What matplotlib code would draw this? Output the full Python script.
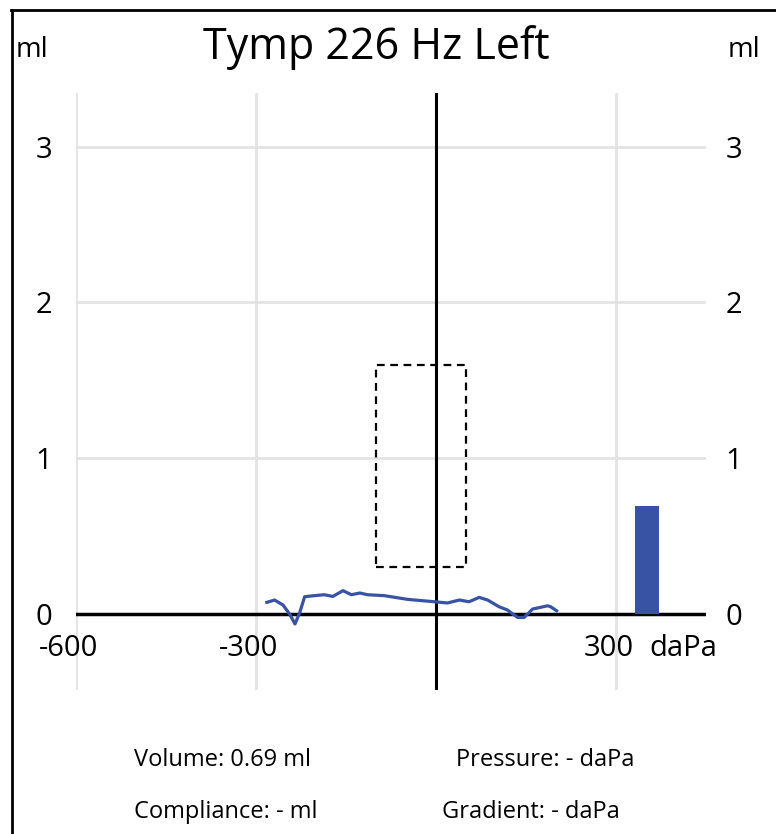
import matplotlib
matplotlib.use("Agg")
import matplotlib.pyplot as plt
from matplotlib.lines import Line2D
from matplotlib.patches import Rectangle
import matplotlib.transforms as mtransforms

# dados do timpanograma
pressao = [-282, -269, -255, -244, -235, -227, -219, -208, -186, -172, -155, -141, -127,
           -114, -86, -47, -3, 19, 39, 55, 72, 86, 105, 119, 136, 147, 161, 186, 191, 201]
complacencia = [0.073, 0.088, 0.056, -0.002, -0.066, 0.008, 0.109, 0.114, 0.122, 0.111,
                0.148, 0.122, 0.133, 0.122, 0.116, 0.092, 0.077, 0.069, 0.088, 0.077,
                0.105, 0.088, 0.045, 0.024, -0.024, -0.024, 0.030, 0.051, 0.045, 0.019]
volume = 0.69
volume_x = 352
caixa = {'x0': -100, 'x1': 50, 'y0': 0.3, 'y1': 1.6}  # região normal
x_ticks = [-600, -300, 300]
x_ticklabels = ['-600', '-300', '300']
y_ticks = [0, 1, 2, 3]
rodape = [('Volume: 0.69 ml', 134, 760), ('Pressure: - daPa', 456, 760),
          ('Compliance: - ml', 134, 812), ('Gradient: - daPa', 442, 812)]

W, H = 776, 834
azul = '#3953a4'
cinza = '#e3e3e3'
fonte = ['Open Sans', 'DejaVu Sans']

fig = plt.figure(figsize=(W / 100, H / 100), dpi=100)
ax = fig.add_axes([76 / W, (H - 690) / H, 630 / W, (690 - 93) / H])
ax.set_xlim(-600, 450)
ax.set_ylim(-0.49, 3.345)
for s in ax.spines.values():
    s.set_visible(False)

# grade
for y in y_ticks[1:]:
    ax.axhline(y, color=cinza, lw=2, zorder=0)
for x in x_ticks:
    ax.axvline(x, color=cinza, lw=2, zorder=0)
ax.axhline(0, color='black', lw=2.5, zorder=2)
ax.axvline(0, color='black', lw=2.2, zorder=2)

# caixa tracejada
ax.add_patch(Rectangle((caixa['x0'], caixa['y0']), caixa['x1'] - caixa['x0'],
                       caixa['y1'] - caixa['y0'], fill=False, ls=(0, (3.5, 2.5)),
                       lw=1.6, ec='black', zorder=3))

# curva e barra de volume
ax.plot(pressao, complacencia, color=azul, lw=2.3, zorder=4)
ax.bar([volume_x], [volume], width=40, color=azul, zorder=3)

# eixo y dos dois lados
ax.set_xticks([])
ax.set_yticks(y_ticks)
ax.set_yticklabels([str(v) for v in y_ticks])
ax.tick_params(axis='y', length=0, labelright=True, right=False)
for t in ax.yaxis.get_major_ticks():
    t.set_pad(17)
    for lbl in (t.label1, t.label2):
        lbl.set_fontsize(21)
        lbl.set_family(fonte)
    # lado direito mais próximo
    t.label2.set_transform(t.label2.get_transform() +
                           mtransforms.ScaledTranslation(-4 / 100, 0, fig.dpi_scale_trans))

# rótulos do eixo x
desloc = mtransforms.offset_copy(ax.transData, fig=fig, x=-7, y=0, units='dots')
for x, lab in zip(x_ticks, x_ticklabels):
    ax.text(x, -0.225, lab, transform=desloc, ha='center', va='center', fontsize=21, family=fonte)
ax.text(412, -0.225, 'daPa', ha='center', va='center', fontsize=21, family=fonte)

# título e unidades
fig.text(376 / W, 1 - 48 / H, 'Tymp 226 Hz Left', ha='center', va='center', fontsize=31, family=fonte)
fig.text(16 / W, 1 - 50 / H, 'ml', ha='left', va='center', fontsize=20, family=fonte)
fig.text(760 / W, 1 - 50 / H, 'ml', ha='right', va='center', fontsize=20, family=fonte)

# rodapé
for txt, px, py in rodape:
    fig.text(px / W, 1 - py / H, txt, ha='left', va='center', fontsize=17, family=fonte)

# moldura
fig.add_artist(Line2D([12 / W, 12 / W], [0, 1 - 10 / H], color='black', lw=2, transform=fig.transFigure))
fig.add_artist(Line2D([11 / W, 1], [1 - 10 / H, 1 - 10 / H], color='black', lw=2, transform=fig.transFigure))

fig.savefig('out.png', dpi=100, facecolor='white')
